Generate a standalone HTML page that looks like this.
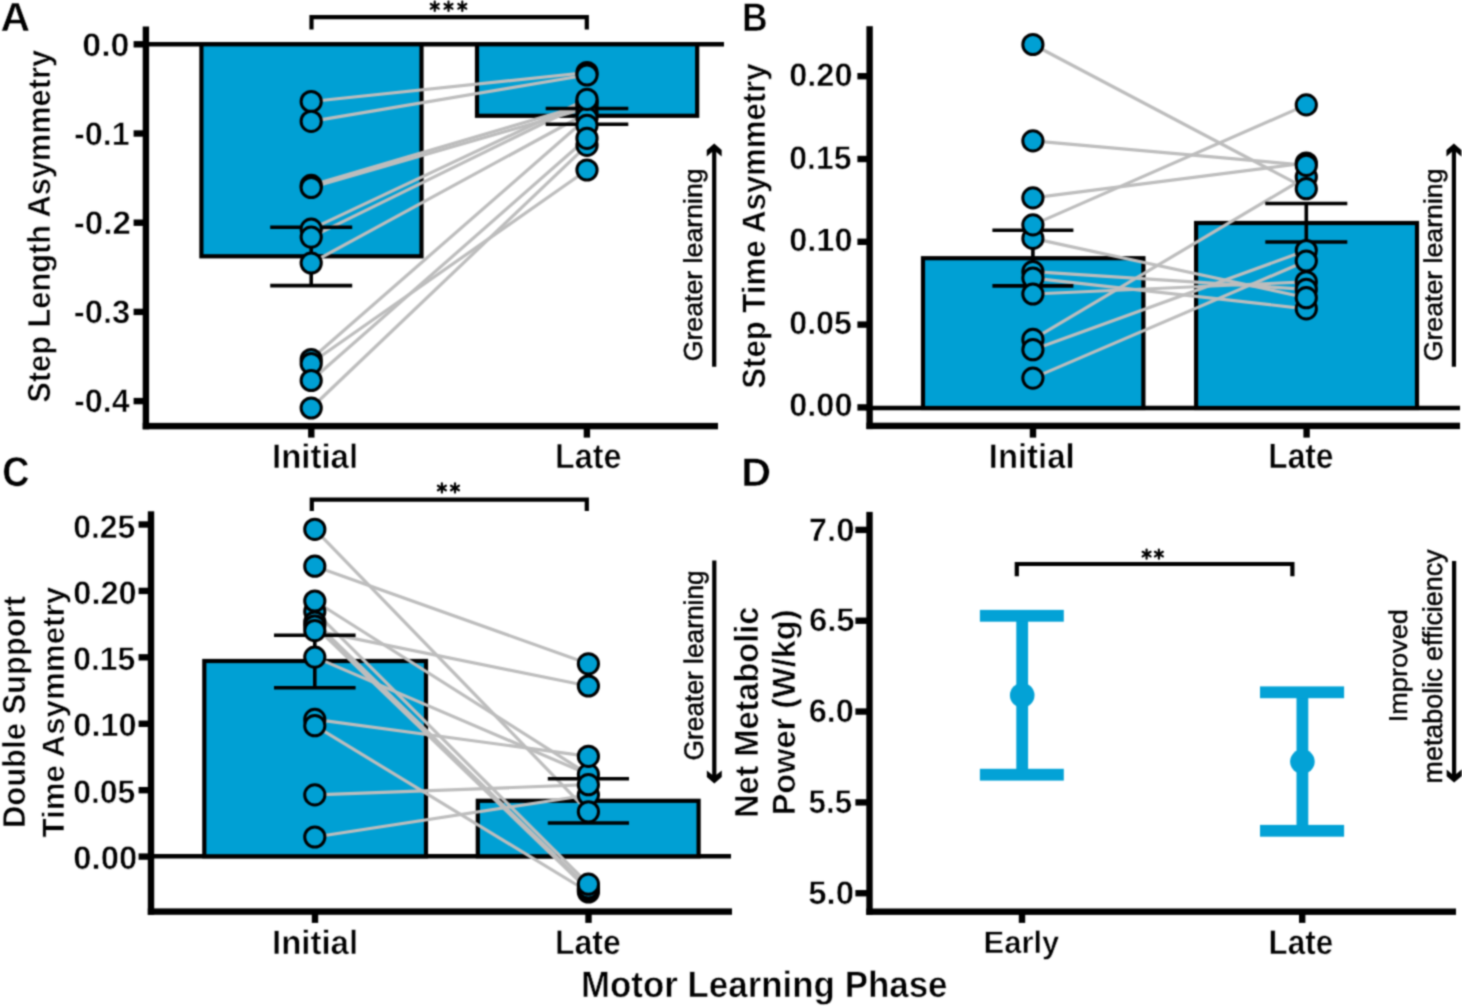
<!DOCTYPE html>
<html><head><meta charset="utf-8"><style>
html,body{margin:0;padding:0;background:#fff;overflow:hidden;width:1462px;height:1006px;}
svg{display:block;}
text{font-family:"Liberation Sans",sans-serif;text-rendering:geometricPrecision;}
</style></head><body>
<svg width="1462" height="1006" viewBox="0 0 1462 1006">
<defs><filter id="soft" x="0" y="0" width="1462" height="1006" filterUnits="userSpaceOnUse" color-interpolation-filters="sRGB"><feConvolveMatrix order="5" kernelMatrix="0.000231 0.003325 0.008088 0.003325 0.000231 0.003325 0.047852 0.116397 0.047852 0.003325 0.008088 0.116397 0.283128 0.116397 0.008088 0.003325 0.047852 0.116397 0.047852 0.003325 0.000231 0.003325 0.008088 0.003325 0.000231" divisor="1" edgeMode="duplicate"/></filter></defs>
<g filter="url(#soft)">
<rect width="1462" height="1006" fill="#fff"/>
<line x1="140.00" y1="44.30" x2="724.00" y2="44.30" stroke="#000" stroke-width="4.4" stroke-linecap="butt"/>
<rect x="201.40" y="44.30" width="220.10" height="212.00" fill="#00A0D4" stroke="#000" stroke-width="4.2"/>
<rect x="477.00" y="44.30" width="220.20" height="71.50" fill="#00A0D4" stroke="#000" stroke-width="4.2"/>
<line x1="311.20" y1="101.50" x2="587.00" y2="72.50" stroke="#BDBDBD" stroke-width="3.2" stroke-linecap="butt"/>
<line x1="311.20" y1="121.30" x2="587.00" y2="75.00" stroke="#BDBDBD" stroke-width="3.2" stroke-linecap="butt"/>
<line x1="311.20" y1="185.40" x2="587.00" y2="104.00" stroke="#BDBDBD" stroke-width="3.2" stroke-linecap="butt"/>
<line x1="311.20" y1="187.50" x2="587.00" y2="108.00" stroke="#BDBDBD" stroke-width="3.2" stroke-linecap="butt"/>
<line x1="311.20" y1="229.10" x2="587.00" y2="99.30" stroke="#BDBDBD" stroke-width="3.2" stroke-linecap="butt"/>
<line x1="311.20" y1="237.10" x2="587.00" y2="102.00" stroke="#BDBDBD" stroke-width="3.2" stroke-linecap="butt"/>
<line x1="311.20" y1="263.00" x2="587.00" y2="113.00" stroke="#BDBDBD" stroke-width="3.2" stroke-linecap="butt"/>
<line x1="311.20" y1="359.00" x2="587.00" y2="118.00" stroke="#BDBDBD" stroke-width="3.2" stroke-linecap="butt"/>
<line x1="311.20" y1="363.00" x2="587.00" y2="170.00" stroke="#BDBDBD" stroke-width="3.2" stroke-linecap="butt"/>
<line x1="311.20" y1="380.50" x2="587.00" y2="138.30" stroke="#BDBDBD" stroke-width="3.2" stroke-linecap="butt"/>
<line x1="311.20" y1="408.00" x2="587.00" y2="145.30" stroke="#BDBDBD" stroke-width="3.2" stroke-linecap="butt"/>
<line x1="311.20" y1="227.20" x2="311.20" y2="285.60" stroke="#000" stroke-width="3.6" stroke-linecap="butt"/>
<line x1="270.20" y1="227.20" x2="352.20" y2="227.20" stroke="#000" stroke-width="3.6" stroke-linecap="butt"/>
<line x1="270.20" y1="285.60" x2="352.20" y2="285.60" stroke="#000" stroke-width="3.6" stroke-linecap="butt"/>
<line x1="587.00" y1="108.50" x2="587.00" y2="124.20" stroke="#000" stroke-width="3.6" stroke-linecap="butt"/>
<line x1="545.70" y1="108.50" x2="628.30" y2="108.50" stroke="#000" stroke-width="3.6" stroke-linecap="butt"/>
<line x1="545.70" y1="124.20" x2="628.30" y2="124.20" stroke="#000" stroke-width="3.6" stroke-linecap="butt"/>
<circle cx="311.20" cy="101.50" r="10.1" fill="#00A0D4" stroke="#000" stroke-width="3"/>
<circle cx="311.20" cy="121.30" r="10.1" fill="#00A0D4" stroke="#000" stroke-width="3"/>
<circle cx="311.20" cy="185.40" r="10.1" fill="#00A0D4" stroke="#000" stroke-width="3"/>
<circle cx="311.20" cy="187.50" r="10.1" fill="#00A0D4" stroke="#000" stroke-width="3"/>
<circle cx="311.20" cy="229.10" r="10.1" fill="#00A0D4" stroke="#000" stroke-width="3"/>
<circle cx="311.20" cy="237.10" r="10.1" fill="#00A0D4" stroke="#000" stroke-width="3"/>
<circle cx="311.20" cy="263.00" r="10.1" fill="#00A0D4" stroke="#000" stroke-width="3"/>
<circle cx="311.20" cy="359.50" r="10.1" fill="#00A0D4" stroke="#000" stroke-width="3"/>
<circle cx="311.20" cy="363.50" r="10.1" fill="#00A0D4" stroke="#000" stroke-width="3"/>
<circle cx="311.20" cy="380.50" r="10.1" fill="#00A0D4" stroke="#000" stroke-width="3"/>
<circle cx="311.20" cy="408.00" r="10.1" fill="#00A0D4" stroke="#000" stroke-width="3"/>
<circle cx="587.00" cy="72.50" r="10.1" fill="#00A0D4" stroke="#000" stroke-width="3"/>
<circle cx="587.00" cy="102.00" r="10.1" fill="#00A0D4" stroke="#000" stroke-width="3"/>
<circle cx="587.00" cy="104.00" r="10.1" fill="#00A0D4" stroke="#000" stroke-width="3"/>
<circle cx="587.00" cy="108.00" r="10.1" fill="#00A0D4" stroke="#000" stroke-width="3"/>
<circle cx="587.00" cy="113.00" r="10.1" fill="#00A0D4" stroke="#000" stroke-width="3"/>
<circle cx="587.00" cy="118.00" r="10.1" fill="#00A0D4" stroke="#000" stroke-width="3"/>
<circle cx="587.00" cy="145.30" r="10.1" fill="#00A0D4" stroke="#000" stroke-width="3"/>
<circle cx="587.00" cy="75.00" r="10.1" fill="#00A0D4" stroke="#000" stroke-width="3"/>
<circle cx="587.00" cy="99.30" r="10.1" fill="#00A0D4" stroke="#000" stroke-width="3"/>
<circle cx="587.00" cy="125.30" r="10.1" fill="#00A0D4" stroke="#000" stroke-width="3"/>
<circle cx="587.00" cy="138.30" r="10.1" fill="#00A0D4" stroke="#000" stroke-width="3"/>
<circle cx="587.00" cy="170.00" r="10.1" fill="#00A0D4" stroke="#000" stroke-width="3"/>
<rect x="142.70" y="26.50" width="6.40" height="402.80" fill="#000"/>
<rect x="142.70" y="422.90" width="575.30" height="6.40" fill="#000"/>
<rect x="133.60" y="41.10" width="12.30" height="6.40" fill="#000"/>
<rect x="133.60" y="130.30" width="12.30" height="6.40" fill="#000"/>
<rect x="133.60" y="219.50" width="12.30" height="6.40" fill="#000"/>
<rect x="133.60" y="308.70" width="12.30" height="6.40" fill="#000"/>
<rect x="133.60" y="397.90" width="12.30" height="6.40" fill="#000"/>
<rect x="308.10" y="426.10" width="6.40" height="11.50" fill="#000"/>
<rect x="583.70" y="426.10" width="6.40" height="11.50" fill="#000"/>
<polyline points="311.50,29.40 311.50,17.20 586.80,17.20 586.80,29.40" fill="none" stroke="#000" stroke-width="4.2" stroke-linejoin="miter"/>
<line x1="434.75" y1="1.70" x2="434.75" y2="10.90" stroke="#000" stroke-width="2.2" stroke-linecap="round"/>
<line x1="430.77" y1="4.00" x2="438.73" y2="8.60" stroke="#000" stroke-width="2.2" stroke-linecap="round"/>
<line x1="438.73" y1="4.00" x2="430.77" y2="8.60" stroke="#000" stroke-width="2.2" stroke-linecap="round"/>
<line x1="448.50" y1="1.70" x2="448.50" y2="10.90" stroke="#000" stroke-width="2.2" stroke-linecap="round"/>
<line x1="444.52" y1="4.00" x2="452.48" y2="8.60" stroke="#000" stroke-width="2.2" stroke-linecap="round"/>
<line x1="452.48" y1="4.00" x2="444.52" y2="8.60" stroke="#000" stroke-width="2.2" stroke-linecap="round"/>
<line x1="462.30" y1="1.70" x2="462.30" y2="10.90" stroke="#000" stroke-width="2.2" stroke-linecap="round"/>
<line x1="458.32" y1="4.00" x2="466.28" y2="8.60" stroke="#000" stroke-width="2.2" stroke-linecap="round"/>
<line x1="466.28" y1="4.00" x2="458.32" y2="8.60" stroke="#000" stroke-width="2.2" stroke-linecap="round"/>
<polygon points="714.20,143.50 721.65,149.90 721.65,156.50 716.30,152.10 716.30,366.80 712.10,366.80 712.10,152.10 706.75,156.50 706.75,149.90" fill="#000"/>
<line x1="865.00" y1="408.00" x2="1460.00" y2="408.00" stroke="#000" stroke-width="4.4" stroke-linecap="butt"/>
<rect x="923.00" y="258.20" width="220.40" height="149.80" fill="#00A0D4" stroke="#000" stroke-width="4.2"/>
<rect x="1196.10" y="223.00" width="220.90" height="185.00" fill="#00A0D4" stroke="#000" stroke-width="4.2"/>
<line x1="1032.90" y1="44.50" x2="1306.30" y2="188.70" stroke="#BDBDBD" stroke-width="3.2" stroke-linecap="butt"/>
<line x1="1032.90" y1="140.90" x2="1306.30" y2="165.30" stroke="#BDBDBD" stroke-width="3.2" stroke-linecap="butt"/>
<line x1="1032.90" y1="197.90" x2="1306.30" y2="163.00" stroke="#BDBDBD" stroke-width="3.2" stroke-linecap="butt"/>
<line x1="1032.90" y1="224.90" x2="1306.30" y2="104.90" stroke="#BDBDBD" stroke-width="3.2" stroke-linecap="butt"/>
<line x1="1032.90" y1="238.40" x2="1306.30" y2="297.70" stroke="#BDBDBD" stroke-width="3.2" stroke-linecap="butt"/>
<line x1="1032.90" y1="271.60" x2="1306.30" y2="289.30" stroke="#BDBDBD" stroke-width="3.2" stroke-linecap="butt"/>
<line x1="1032.90" y1="278.10" x2="1306.30" y2="308.80" stroke="#BDBDBD" stroke-width="3.2" stroke-linecap="butt"/>
<line x1="1032.90" y1="294.00" x2="1306.30" y2="281.80" stroke="#BDBDBD" stroke-width="3.2" stroke-linecap="butt"/>
<line x1="1032.90" y1="339.40" x2="1306.30" y2="177.00" stroke="#BDBDBD" stroke-width="3.2" stroke-linecap="butt"/>
<line x1="1032.90" y1="349.70" x2="1306.30" y2="250.50" stroke="#BDBDBD" stroke-width="3.2" stroke-linecap="butt"/>
<line x1="1032.90" y1="378.10" x2="1306.30" y2="261.00" stroke="#BDBDBD" stroke-width="3.2" stroke-linecap="butt"/>
<line x1="1032.90" y1="230.20" x2="1032.90" y2="285.90" stroke="#000" stroke-width="3.6" stroke-linecap="butt"/>
<line x1="992.40" y1="230.20" x2="1073.40" y2="230.20" stroke="#000" stroke-width="3.6" stroke-linecap="butt"/>
<line x1="992.40" y1="285.90" x2="1073.40" y2="285.90" stroke="#000" stroke-width="3.6" stroke-linecap="butt"/>
<line x1="1306.30" y1="203.50" x2="1306.30" y2="242.00" stroke="#000" stroke-width="3.6" stroke-linecap="butt"/>
<line x1="1265.30" y1="203.50" x2="1347.30" y2="203.50" stroke="#000" stroke-width="3.6" stroke-linecap="butt"/>
<line x1="1265.30" y1="242.00" x2="1347.30" y2="242.00" stroke="#000" stroke-width="3.6" stroke-linecap="butt"/>
<circle cx="1032.90" cy="238.40" r="10.1" fill="#00A0D4" stroke="#000" stroke-width="3"/>
<circle cx="1032.90" cy="271.60" r="10.1" fill="#00A0D4" stroke="#000" stroke-width="3"/>
<circle cx="1032.90" cy="339.40" r="10.1" fill="#00A0D4" stroke="#000" stroke-width="3"/>
<circle cx="1032.90" cy="44.50" r="10.1" fill="#00A0D4" stroke="#000" stroke-width="3"/>
<circle cx="1032.90" cy="140.90" r="10.1" fill="#00A0D4" stroke="#000" stroke-width="3"/>
<circle cx="1032.90" cy="197.90" r="10.1" fill="#00A0D4" stroke="#000" stroke-width="3"/>
<circle cx="1032.90" cy="224.90" r="10.1" fill="#00A0D4" stroke="#000" stroke-width="3"/>
<circle cx="1032.90" cy="278.10" r="10.1" fill="#00A0D4" stroke="#000" stroke-width="3"/>
<circle cx="1032.90" cy="294.00" r="10.1" fill="#00A0D4" stroke="#000" stroke-width="3"/>
<circle cx="1032.90" cy="349.70" r="10.1" fill="#00A0D4" stroke="#000" stroke-width="3"/>
<circle cx="1032.90" cy="378.10" r="10.1" fill="#00A0D4" stroke="#000" stroke-width="3"/>
<circle cx="1306.30" cy="163.00" r="10.1" fill="#00A0D4" stroke="#000" stroke-width="3"/>
<circle cx="1306.30" cy="177.00" r="10.1" fill="#00A0D4" stroke="#000" stroke-width="3"/>
<circle cx="1306.30" cy="250.50" r="10.1" fill="#00A0D4" stroke="#000" stroke-width="3"/>
<circle cx="1306.30" cy="281.80" r="10.1" fill="#00A0D4" stroke="#000" stroke-width="3"/>
<circle cx="1306.30" cy="289.30" r="10.1" fill="#00A0D4" stroke="#000" stroke-width="3"/>
<circle cx="1306.30" cy="308.80" r="10.1" fill="#00A0D4" stroke="#000" stroke-width="3"/>
<circle cx="1306.30" cy="104.90" r="10.1" fill="#00A0D4" stroke="#000" stroke-width="3"/>
<circle cx="1306.30" cy="165.30" r="10.1" fill="#00A0D4" stroke="#000" stroke-width="3"/>
<circle cx="1306.30" cy="188.70" r="10.1" fill="#00A0D4" stroke="#000" stroke-width="3"/>
<circle cx="1306.30" cy="261.00" r="10.1" fill="#00A0D4" stroke="#000" stroke-width="3"/>
<circle cx="1306.30" cy="297.70" r="10.1" fill="#00A0D4" stroke="#000" stroke-width="3"/>
<rect x="866.40" y="26.20" width="6.40" height="402.90" fill="#000"/>
<rect x="866.40" y="422.70" width="593.60" height="6.40" fill="#000"/>
<rect x="857.40" y="73.00" width="12.20" height="6.40" fill="#000"/>
<rect x="857.40" y="155.80" width="12.20" height="6.40" fill="#000"/>
<rect x="857.40" y="238.60" width="12.20" height="6.40" fill="#000"/>
<rect x="857.40" y="321.40" width="12.20" height="6.40" fill="#000"/>
<rect x="857.40" y="404.20" width="12.20" height="6.40" fill="#000"/>
<rect x="1029.80" y="425.90" width="6.40" height="11.70" fill="#000"/>
<rect x="1303.40" y="425.90" width="6.40" height="11.70" fill="#000"/>
<polygon points="1453.90,143.50 1461.35,149.90 1461.35,156.50 1456.00,152.10 1456.00,366.80 1451.80,366.80 1451.80,152.10 1446.45,156.50 1446.45,149.90" fill="#000"/>
<line x1="145.00" y1="856.30" x2="731.00" y2="856.30" stroke="#000" stroke-width="4.4" stroke-linecap="butt"/>
<rect x="204.30" y="661.00" width="221.70" height="195.30" fill="#00A0D4" stroke="#000" stroke-width="4.2"/>
<rect x="477.80" y="800.80" width="220.80" height="55.50" fill="#00A0D4" stroke="#000" stroke-width="4.2"/>
<line x1="314.80" y1="529.30" x2="588.40" y2="811.80" stroke="#BDBDBD" stroke-width="3.2" stroke-linecap="butt"/>
<line x1="314.80" y1="566.20" x2="588.40" y2="663.80" stroke="#BDBDBD" stroke-width="3.2" stroke-linecap="butt"/>
<line x1="314.80" y1="601.00" x2="588.40" y2="774.40" stroke="#BDBDBD" stroke-width="3.2" stroke-linecap="butt"/>
<line x1="314.80" y1="611.40" x2="588.40" y2="884.20" stroke="#BDBDBD" stroke-width="3.2" stroke-linecap="butt"/>
<line x1="314.80" y1="622.00" x2="588.40" y2="888.00" stroke="#BDBDBD" stroke-width="3.2" stroke-linecap="butt"/>
<line x1="314.80" y1="626.00" x2="588.40" y2="890.00" stroke="#BDBDBD" stroke-width="3.2" stroke-linecap="butt"/>
<line x1="314.80" y1="630.60" x2="588.40" y2="686.00" stroke="#BDBDBD" stroke-width="3.2" stroke-linecap="butt"/>
<line x1="314.80" y1="657.10" x2="588.40" y2="774.40" stroke="#BDBDBD" stroke-width="3.2" stroke-linecap="butt"/>
<line x1="314.80" y1="719.40" x2="588.40" y2="756.30" stroke="#BDBDBD" stroke-width="3.2" stroke-linecap="butt"/>
<line x1="314.80" y1="725.70" x2="588.40" y2="892.00" stroke="#BDBDBD" stroke-width="3.2" stroke-linecap="butt"/>
<line x1="314.80" y1="794.90" x2="588.40" y2="784.70" stroke="#BDBDBD" stroke-width="3.2" stroke-linecap="butt"/>
<line x1="314.80" y1="837.00" x2="588.40" y2="795.00" stroke="#BDBDBD" stroke-width="3.2" stroke-linecap="butt"/>
<line x1="314.80" y1="635.20" x2="314.80" y2="687.80" stroke="#000" stroke-width="3.6" stroke-linecap="butt"/>
<line x1="274.00" y1="635.20" x2="355.60" y2="635.20" stroke="#000" stroke-width="3.6" stroke-linecap="butt"/>
<line x1="274.00" y1="687.80" x2="355.60" y2="687.80" stroke="#000" stroke-width="3.6" stroke-linecap="butt"/>
<line x1="588.40" y1="778.80" x2="588.40" y2="823.00" stroke="#000" stroke-width="3.6" stroke-linecap="butt"/>
<line x1="547.80" y1="778.80" x2="629.00" y2="778.80" stroke="#000" stroke-width="3.6" stroke-linecap="butt"/>
<line x1="547.80" y1="823.00" x2="629.00" y2="823.00" stroke="#000" stroke-width="3.6" stroke-linecap="butt"/>
<circle cx="314.80" cy="611.40" r="10.1" fill="#00A0D4" stroke="#000" stroke-width="3"/>
<circle cx="314.80" cy="622.00" r="10.1" fill="#00A0D4" stroke="#000" stroke-width="3"/>
<circle cx="314.80" cy="626.00" r="10.1" fill="#00A0D4" stroke="#000" stroke-width="3"/>
<circle cx="314.80" cy="719.40" r="10.1" fill="#00A0D4" stroke="#000" stroke-width="3"/>
<circle cx="314.80" cy="529.30" r="10.1" fill="#00A0D4" stroke="#000" stroke-width="3"/>
<circle cx="314.80" cy="566.20" r="10.1" fill="#00A0D4" stroke="#000" stroke-width="3"/>
<circle cx="314.80" cy="601.00" r="10.1" fill="#00A0D4" stroke="#000" stroke-width="3"/>
<circle cx="314.80" cy="630.60" r="10.1" fill="#00A0D4" stroke="#000" stroke-width="3"/>
<circle cx="314.80" cy="657.10" r="10.1" fill="#00A0D4" stroke="#000" stroke-width="3"/>
<circle cx="314.80" cy="725.70" r="10.1" fill="#00A0D4" stroke="#000" stroke-width="3"/>
<circle cx="314.80" cy="794.90" r="10.1" fill="#00A0D4" stroke="#000" stroke-width="3"/>
<circle cx="314.80" cy="837.00" r="10.1" fill="#00A0D4" stroke="#000" stroke-width="3"/>
<circle cx="588.40" cy="892.00" r="10.1" fill="#00A0D4" stroke="#000" stroke-width="3"/>
<circle cx="588.40" cy="890.00" r="10.1" fill="#00A0D4" stroke="#000" stroke-width="3"/>
<circle cx="588.40" cy="888.00" r="10.1" fill="#00A0D4" stroke="#000" stroke-width="3"/>
<circle cx="588.40" cy="774.40" r="10.1" fill="#00A0D4" stroke="#000" stroke-width="3"/>
<circle cx="588.40" cy="795.00" r="10.1" fill="#00A0D4" stroke="#000" stroke-width="3"/>
<circle cx="588.40" cy="663.80" r="10.1" fill="#00A0D4" stroke="#000" stroke-width="3"/>
<circle cx="588.40" cy="686.00" r="10.1" fill="#00A0D4" stroke="#000" stroke-width="3"/>
<circle cx="588.40" cy="756.30" r="10.1" fill="#00A0D4" stroke="#000" stroke-width="3"/>
<circle cx="588.40" cy="784.70" r="10.1" fill="#00A0D4" stroke="#000" stroke-width="3"/>
<circle cx="588.40" cy="811.80" r="10.1" fill="#00A0D4" stroke="#000" stroke-width="3"/>
<circle cx="588.40" cy="884.20" r="10.1" fill="#00A0D4" stroke="#000" stroke-width="3"/>
<rect x="147.80" y="511.30" width="6.40" height="403.50" fill="#000"/>
<rect x="147.80" y="908.40" width="584.20" height="6.40" fill="#000"/>
<rect x="138.60" y="521.30" width="12.40" height="6.40" fill="#000"/>
<rect x="138.60" y="587.72" width="12.40" height="6.40" fill="#000"/>
<rect x="138.60" y="654.14" width="12.40" height="6.40" fill="#000"/>
<rect x="138.60" y="720.56" width="12.40" height="6.40" fill="#000"/>
<rect x="138.60" y="786.98" width="12.40" height="6.40" fill="#000"/>
<rect x="138.60" y="853.40" width="12.40" height="6.40" fill="#000"/>
<rect x="311.80" y="911.60" width="6.40" height="11.30" fill="#000"/>
<rect x="585.30" y="911.60" width="6.40" height="11.30" fill="#000"/>
<polyline points="311.80,511.00 311.80,499.60 586.80,499.60 586.80,511.00" fill="none" stroke="#000" stroke-width="4.2" stroke-linejoin="miter"/>
<line x1="441.90" y1="483.40" x2="441.90" y2="492.60" stroke="#000" stroke-width="2.2" stroke-linecap="round"/>
<line x1="437.92" y1="485.70" x2="445.88" y2="490.30" stroke="#000" stroke-width="2.2" stroke-linecap="round"/>
<line x1="445.88" y1="485.70" x2="437.92" y2="490.30" stroke="#000" stroke-width="2.2" stroke-linecap="round"/>
<line x1="455.00" y1="483.40" x2="455.00" y2="492.60" stroke="#000" stroke-width="2.2" stroke-linecap="round"/>
<line x1="451.02" y1="485.70" x2="458.98" y2="490.30" stroke="#000" stroke-width="2.2" stroke-linecap="round"/>
<line x1="458.98" y1="485.70" x2="451.02" y2="490.30" stroke="#000" stroke-width="2.2" stroke-linecap="round"/>
<polygon points="714.30,783.40 721.75,777.00 721.75,770.40 716.40,774.80 716.40,560.40 712.20,560.40 712.20,774.80 706.85,770.40 706.85,777.00" fill="#000"/>
<rect x="866.30" y="511.90" width="6.40" height="403.00" fill="#000"/>
<rect x="866.30" y="908.50" width="589.70" height="6.40" fill="#000"/>
<rect x="855.40" y="526.70" width="14.10" height="6.40" fill="#000"/>
<rect x="855.40" y="617.53" width="14.10" height="6.40" fill="#000"/>
<rect x="855.40" y="708.36" width="14.10" height="6.40" fill="#000"/>
<rect x="855.40" y="799.19" width="14.10" height="6.40" fill="#000"/>
<rect x="855.40" y="890.02" width="14.10" height="6.40" fill="#000"/>
<rect x="1018.80" y="911.70" width="6.40" height="11.20" fill="#000"/>
<rect x="1299.00" y="911.70" width="6.40" height="11.20" fill="#000"/>
<line x1="1022.20" y1="615.80" x2="1022.20" y2="774.70" stroke="#03A2D6" stroke-width="11.8" stroke-linecap="butt"/>
<rect x="979.90" y="609.90" width="83.90" height="11.80" fill="#03A2D6"/>
<rect x="979.90" y="768.80" width="83.90" height="11.80" fill="#03A2D6"/>
<circle cx="1022.20" cy="695.30" r="12.3" fill="#03A2D6"/>
<line x1="1302.40" y1="692.30" x2="1302.40" y2="830.80" stroke="#03A2D6" stroke-width="11.8" stroke-linecap="butt"/>
<rect x="1260.00" y="686.40" width="84.10" height="11.80" fill="#03A2D6"/>
<rect x="1260.00" y="824.90" width="84.10" height="11.80" fill="#03A2D6"/>
<circle cx="1302.40" cy="761.60" r="12.3" fill="#03A2D6"/>
<polyline points="1016.80,576.30 1016.80,564.00 1292.40,564.00 1292.40,576.30" fill="none" stroke="#000" stroke-width="4.2" stroke-linejoin="miter"/>
<line x1="1146.60" y1="549.50" x2="1146.60" y2="558.70" stroke="#000" stroke-width="2.2" stroke-linecap="round"/>
<line x1="1142.62" y1="551.80" x2="1150.58" y2="556.40" stroke="#000" stroke-width="2.2" stroke-linecap="round"/>
<line x1="1150.58" y1="551.80" x2="1142.62" y2="556.40" stroke="#000" stroke-width="2.2" stroke-linecap="round"/>
<line x1="1158.90" y1="549.50" x2="1158.90" y2="558.70" stroke="#000" stroke-width="2.2" stroke-linecap="round"/>
<line x1="1154.92" y1="551.80" x2="1162.88" y2="556.40" stroke="#000" stroke-width="2.2" stroke-linecap="round"/>
<line x1="1162.88" y1="551.80" x2="1154.92" y2="556.40" stroke="#000" stroke-width="2.2" stroke-linecap="round"/>
<polygon points="1454.10,782.60 1461.55,776.20 1461.55,769.60 1456.20,774.00 1456.20,560.90 1452.00,560.90 1452.00,774.00 1446.65,769.60 1446.65,776.20" fill="#000"/>
<text  transform="translate(0.487,30.855) scale(1.0086,1)" font-size="40.72" font-weight="bold" stroke="#fff" stroke-width="0.55">A</text>
<text  transform="translate(82.322,55.518) scale(1.0398,1)" font-size="32.63" font-weight="bold" stroke="#fff" stroke-width="0.55">0.0</text>
<text  transform="translate(73.907,145.096) scale(0.9926,1)" font-size="32.64" font-weight="bold" stroke="#fff" stroke-width="0.55">-0.1</text>
<text  transform="translate(73.771,233.699) scale(1.0159,1)" font-size="32.66" font-weight="bold" stroke="#fff" stroke-width="0.55">-0.2</text>
<text  transform="translate(73.827,323.240) scale(1.0093,1)" font-size="32.51" font-weight="bold" stroke="#fff" stroke-width="0.55">-0.3</text>
<text  transform="translate(73.897,412.495) scale(0.9887,1)" font-size="32.71" font-weight="bold" stroke="#fff" stroke-width="0.55">-0.4</text>
<text  transform="translate(50.418,402.674) rotate(-90) scale(0.9631,1)" font-size="31.95" font-weight="bold" stroke="#fff" stroke-width="0.55">Step Length Asymmetry</text>
<text  transform="translate(272.004,468.165) scale(0.9651,1)" font-size="34.17" font-weight="bold" stroke="#fff" stroke-width="0.55">Initial</text>
<text  transform="translate(554.950,468.156) scale(0.9289,1)" font-size="34.83" font-weight="bold" stroke="#fff" stroke-width="0.55">Late</text>
<text  transform="translate(702.464,361.284) rotate(-90) scale(1.0260,1)" font-size="26.02" font-weight="normal" stroke="#000" stroke-width="0.45">Greater learning</text>
<text  transform="translate(742.055,30.841) scale(0.8838,1)" font-size="40.12" font-weight="bold" stroke="#fff" stroke-width="0.55">B</text>
<text  transform="translate(789.193,85.899) scale(1.0014,1)" font-size="32.51" font-weight="bold" stroke="#fff" stroke-width="0.55">0.20</text>
<text  transform="translate(789.260,168.753) scale(0.9767,1)" font-size="32.71" font-weight="bold" stroke="#fff" stroke-width="0.55">0.15</text>
<text  transform="translate(789.193,251.199) scale(1.0014,1)" font-size="32.51" font-weight="bold" stroke="#fff" stroke-width="0.55">0.10</text>
<text  transform="translate(789.222,334.050) scale(0.9864,1)" font-size="32.69" font-weight="bold" stroke="#fff" stroke-width="0.55">0.05</text>
<text  transform="translate(789.193,416.499) scale(1.0014,1)" font-size="32.51" font-weight="bold" stroke="#fff" stroke-width="0.55">0.00</text>
<text  transform="translate(764.580,388.733) rotate(-90) scale(0.9577,1)" font-size="32.51" font-weight="bold" stroke="#fff" stroke-width="0.55">Step Time Asymmetry</text>
<text  transform="translate(988.768,468.435) scale(0.9530,1)" font-size="34.46" font-weight="bold" stroke="#fff" stroke-width="0.55">Initial</text>
<text  transform="translate(1268.235,468.427) scale(0.8962,1)" font-size="35.44" font-weight="bold" stroke="#fff" stroke-width="0.55">Late</text>
<text  transform="translate(1442.299,361.282) rotate(-90) scale(1.0375,1)" font-size="25.73" font-weight="normal" stroke="#000" stroke-width="0.45">Greater learning</text>
<text  transform="translate(2.252,485.980) scale(0.9030,1)" font-size="41.70" font-weight="bold" stroke="#fff" stroke-width="0.55">C</text>
<text  transform="translate(73.205,537.636) scale(0.9772,1)" font-size="32.68" font-weight="bold" stroke="#fff" stroke-width="0.55">0.25</text>
<text  transform="translate(73.324,603.963) scale(1.0008,1)" font-size="32.52" font-weight="bold" stroke="#fff" stroke-width="0.55">0.20</text>
<text  transform="translate(73.205,670.156) scale(0.9772,1)" font-size="32.68" font-weight="bold" stroke="#fff" stroke-width="0.55">0.15</text>
<text  transform="translate(73.324,736.483) scale(1.0008,1)" font-size="32.52" font-weight="bold" stroke="#fff" stroke-width="0.55">0.10</text>
<text  transform="translate(73.205,802.676) scale(0.9774,1)" font-size="32.67" font-weight="bold" stroke="#fff" stroke-width="0.55">0.05</text>
<text  transform="translate(73.374,869.416) scale(1.0021,1)" font-size="32.70" font-weight="bold" stroke="#fff" stroke-width="0.55">0.00</text>
<text  transform="translate(25.024,828.077) rotate(-90) scale(0.9714,1)" font-size="31.88" font-weight="bold" stroke="#fff" stroke-width="0.55">Double Support</text>
<text  transform="translate(64.460,837.520) rotate(-90) scale(1.0131,1)" font-size="30.91" font-weight="bold" stroke="#fff" stroke-width="0.55">Time Asymmetry</text>
<text  transform="translate(271.999,954.470) scale(0.9781,1)" font-size="33.72" font-weight="bold" stroke="#fff" stroke-width="0.55">Initial</text>
<text  transform="translate(555.001,954.439) scale(0.9290,1)" font-size="34.47" font-weight="bold" stroke="#fff" stroke-width="0.55">Late</text>
<text  transform="translate(703.217,760.430) rotate(-90) scale(0.9757,1)" font-size="26.98" font-weight="normal" stroke="#000" stroke-width="0.45">Greater learning</text>
<text  transform="translate(741.367,485.641) scale(1.0324,1)" font-size="40.05" font-weight="bold" stroke="#fff" stroke-width="0.55">D</text>
<text  transform="translate(808.717,540.791) scale(1.0084,1)" font-size="32.63" font-weight="bold" stroke="#fff" stroke-width="0.55">7.0</text>
<text  transform="translate(808.910,631.322) scale(1.0077,1)" font-size="32.66" font-weight="bold" stroke="#fff" stroke-width="0.55">6.5</text>
<text  transform="translate(808.752,722.350) scale(0.9932,1)" font-size="32.72" font-weight="bold" stroke="#fff" stroke-width="0.55">6.0</text>
<text  transform="translate(808.556,813.372) scale(0.9442,1)" font-size="33.11" font-weight="bold" stroke="#fff" stroke-width="0.55">5.5</text>
<text  transform="translate(808.334,903.817) scale(1.0055,1)" font-size="32.70" font-weight="bold" stroke="#fff" stroke-width="0.55">5.0</text>
<text  transform="translate(757.674,818.026) rotate(-90) scale(0.9702,1)" font-size="33.50" font-weight="bold" stroke="#fff" stroke-width="0.55">Net Metabolic</text>
<text  transform="translate(794.716,815.309) rotate(-90) scale(1.0070,1)" font-size="32.27" font-weight="bold" stroke="#fff" stroke-width="0.55">Power (W/kg)</text>
<text  transform="translate(983.542,953.217) scale(0.9857,1)" font-size="31.43" font-weight="bold" stroke="#fff" stroke-width="0.55">Early</text>
<text  transform="translate(1268.441,954.462) scale(0.9121,1)" font-size="34.51" font-weight="bold" stroke="#fff" stroke-width="0.55">Late</text>
<text  transform="translate(1406.892,722.332) rotate(-90) scale(1.0527,1)" font-size="25.80" font-weight="normal" stroke="#000" stroke-width="0.45">Improved</text>
<text  transform="translate(1441.585,783.431) rotate(-90) scale(0.9860,1)" font-size="27.26" font-weight="normal" stroke="#000" stroke-width="0.45">metabolic efficiency</text>
<text  transform="translate(580.898,997.331) scale(0.9459,1)" font-size="36.92" font-weight="bold" stroke="#fff" stroke-width="0.55">Motor Learning Phase</text>
</g>
</svg>
</body></html>
